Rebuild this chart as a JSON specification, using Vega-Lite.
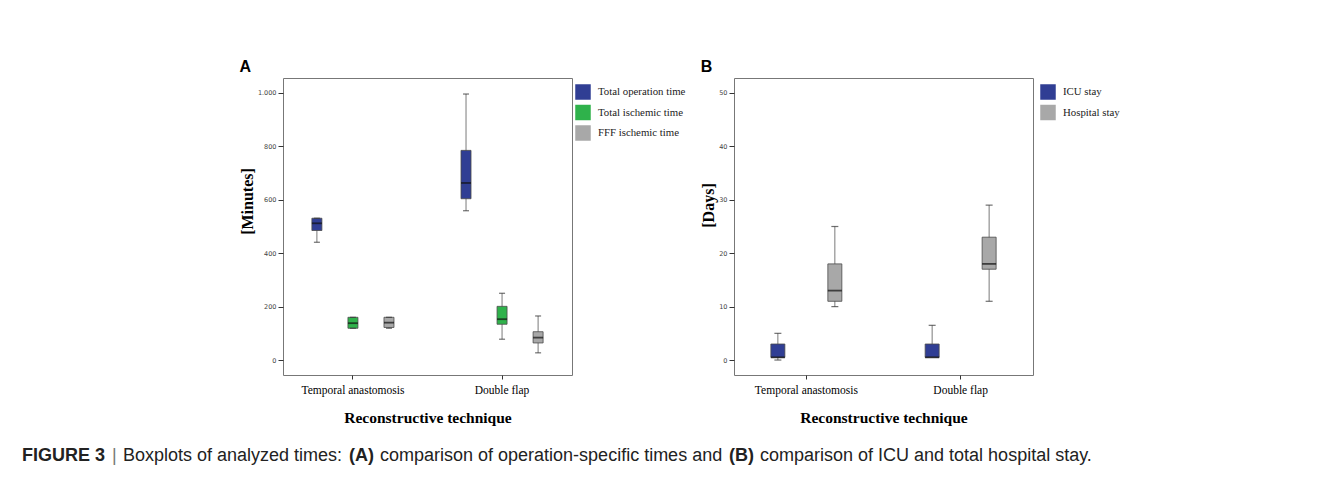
{
  "$schema": "https://vega.github.io/schema/vega-lite/v6.json",
  "background": "white",
  "padding": {"left": 22, "top": 58, "right": 5, "bottom": 5},
  "config": {
    "view": {"stroke": "#777", "strokeWidth": 1},
    "axis": {"grid": false, "domain": false, "tickColor": "#333", "tickWidth": 1, "titleColor": "#000"},
    "axisX": {"labelFont": "Liberation Serif", "labelFontSize": 11.5, "labelColor": "#000", "labelAngle": 0, "tickSize": 4, "labelPadding": 5, "titleFont": "Liberation Serif", "titleFontSize": 15.5, "titleFontWeight": "bold", "titlePadding": 15},
    "axisY": {"labelFont": "DejaVu Sans", "labelFontSize": 6.5, "labelColor": "#444", "tickSize": 5, "labelPadding": 2, "titleFont": "Liberation Serif", "titleFontSize": 16, "titleFontWeight": "bold", "titlePadding": 2},
    "legend": {"symbolType": "square", "symbolSize": 240, "symbolStrokeWidth": 0, "symbolOpacity": 1, "labelFont": "Liberation Serif", "labelFontSize": 10.8, "labelColor": "#222", "labelOffset": 7, "rowPadding": 4.5, "padding": 0}
  },
  "spacing": 20,
  "vconcat": [
    {
      "spacing": 13,
      "resolve": {"scale": {"color": "independent", "xOffset": "independent"}, "legend": {"color": "independent"}},
      "hconcat": [
        {"width": 203, "height": 10, "view": {"stroke": null}, "data": {"values": []}, "mark": {"type": "point", "opacity": 0}},
        {
          "width": 289,
          "height": 297,
          "title": {"text": "A", "anchor": "start", "frame": "bounds", "font": "Liberation Sans", "fontSize": 16, "fontWeight": "bold", "color": "#000", "offset": 3},
          "data": {"values": [
            {"technique": "Temporal anastomosis", "series": "Total operation time", "lower": 441, "q1": 485, "median": 512, "q3": 531, "upper": 531},
            {"technique": "Temporal anastomosis", "series": "Total ischemic time", "lower": 119, "q1": 119, "median": 138, "q3": 160, "upper": 160},
            {"technique": "Temporal anastomosis", "series": "FFF ischemic time", "lower": 119, "q1": 122, "median": 140, "q3": 160, "upper": 160},
            {"technique": "Double flap", "series": "Total operation time", "lower": 559, "q1": 604, "median": 663, "q3": 785, "upper": 996},
            {"technique": "Double flap", "series": "Total ischemic time", "lower": 78, "q1": 134, "median": 153, "q3": 201, "upper": 250},
            {"technique": "Double flap", "series": "FFF ischemic time", "lower": 27, "q1": 64, "median": 84, "q3": 106, "upper": 165}
          ]},
          "encoding": {
            "x": {"field": "technique", "type": "nominal", "sort": ["Temporal anastomosis", "Double flap"], "title": "Reconstructive technique", "scale": {"paddingInner": 0.5, "paddingOuter": 0.219}},
            "xOffset": {"field": "series", "type": "nominal", "sort": ["Total operation time", "Total ischemic time", "FFF ischemic time"], "scale": {"paddingInner": 0.931, "paddingOuter": 0}}
          },
          "layer": [
            {"mark": {"type": "rule", "color": "#7a7a7a", "strokeWidth": 1},
             "encoding": {
               "y": {"field": "lower", "type": "quantitative", "title": "[Minutes]", "scale": {"domain": [-56, 1056], "nice": false, "zero": false},
                     "axis": {"values": [0, 200, 400, 600, 800, 1000], "labelExpr": "replace(format(datum.value, ','), ',', '.')", "titleY": 123}},
               "y2": {"field": "upper"}}},
            {"mark": {"type": "bar", "width": 10, "stroke": "#4a4a4a", "strokeWidth": 0.8},
             "encoding": {
               "y": {"field": "q1", "type": "quantitative", "title": "[Minutes]", "scale": {"domain": [-56, 1056], "nice": false, "zero": false},
                     "axis": {"values": [0, 200, 400, 600, 800, 1000], "labelExpr": "replace(format(datum.value, ','), ',', '.')", "titleY": 123}},
               "y2": {"field": "q3"},
               "color": {"field": "series", "type": "nominal", "scale": {"domain": ["Total operation time", "Total ischemic time", "FFF ischemic time"], "range": ["#303e94", "#2fb24b", "#a8a8a8"]},
                         "legend": {"orient": "none", "legendX": 292, "legendY": 6, "title": null}}}},
            {"mark": {"type": "tick", "color": "#111", "thickness": 1.8, "size": 10},
             "encoding": {"y": {"field": "median", "type": "quantitative", "title": "[Minutes]", "scale": {"domain": [-56, 1056], "nice": false, "zero": false},
                     "axis": {"values": [0, 200, 400, 600, 800, 1000], "labelExpr": "replace(format(datum.value, ','), ',', '.')", "titleY": 123}}}},
            {"mark": {"type": "tick", "color": "#333", "thickness": 1.2, "size": 6},
             "encoding": {"y": {"field": "lower", "type": "quantitative", "title": "[Minutes]", "scale": {"domain": [-56, 1056], "nice": false, "zero": false},
                     "axis": {"values": [0, 200, 400, 600, 800, 1000], "labelExpr": "replace(format(datum.value, ','), ',', '.')", "titleY": 123}}}},
            {"mark": {"type": "tick", "color": "#333", "thickness": 1.2, "size": 6},
             "encoding": {"y": {"field": "upper", "type": "quantitative", "title": "[Minutes]", "scale": {"domain": [-56, 1056], "nice": false, "zero": false},
                     "axis": {"values": [0, 200, 400, 600, 800, 1000], "labelExpr": "replace(format(datum.value, ','), ',', '.')", "titleY": 123}}}}
          ]
        },
        {
          "width": 299,
          "height": 297,
          "title": {"text": "B", "anchor": "start", "frame": "bounds", "font": "Liberation Sans", "fontSize": 16, "fontWeight": "bold", "color": "#000", "offset": 3},
          "data": {"values": [
            {"technique": "Temporal anastomosis", "series": "ICU stay", "lower": 0, "q1": 0.5, "median": 0.5, "q3": 3, "upper": 5},
            {"technique": "Temporal anastomosis", "series": "Hospital stay", "lower": 10, "q1": 11, "median": 13, "q3": 18, "upper": 25},
            {"technique": "Double flap", "series": "ICU stay", "lower": 0.5, "q1": 0.5, "median": 0.5, "q3": 3, "upper": 6.5},
            {"technique": "Double flap", "series": "Hospital stay", "lower": 11, "q1": 17, "median": 18, "q3": 23, "upper": 29}
          ]},
          "encoding": {
            "x": {"field": "technique", "type": "nominal", "sort": ["Temporal anastomosis", "Double flap"], "title": "Reconstructive technique", "scale": {"paddingInner": 0.5, "paddingOuter": 0.219}},
            "xOffset": {"field": "series", "type": "nominal", "sort": ["ICU stay", "Hospital stay"], "scale": {"paddingInner": 0.646, "paddingOuter": 0}}
          },
          "layer": [
            {"mark": {"type": "rule", "color": "#7a7a7a", "strokeWidth": 1},
             "encoding": {
               "y": {"field": "lower", "type": "quantitative", "title": "[Days]", "scale": {"domain": [-2.8, 52.8], "nice": false, "zero": false},
                     "axis": {"values": [0, 10, 20, 30, 40, 50], "titleY": 127}},
               "y2": {"field": "upper"}}},
            {"mark": {"type": "bar", "width": 14, "stroke": "#4a4a4a", "strokeWidth": 0.8},
             "encoding": {
               "y": {"field": "q1", "type": "quantitative", "title": "[Days]", "scale": {"domain": [-2.8, 52.8], "nice": false, "zero": false},
                     "axis": {"values": [0, 10, 20, 30, 40, 50], "titleY": 127}},
               "y2": {"field": "q3"},
               "color": {"field": "series", "type": "nominal", "scale": {"domain": ["ICU stay", "Hospital stay"], "range": ["#303e94", "#a8a8a8"]},
                         "legend": {"orient": "none", "legendX": 306, "legendY": 6, "title": null}}}},
            {"mark": {"type": "tick", "color": "#111", "thickness": 1.8, "size": 14},
             "encoding": {"y": {"field": "median", "type": "quantitative", "title": "[Days]", "scale": {"domain": [-2.8, 52.8], "nice": false, "zero": false},
                     "axis": {"values": [0, 10, 20, 30, 40, 50], "titleY": 127}}}},
            {"mark": {"type": "tick", "color": "#333", "thickness": 1.2, "size": 7},
             "encoding": {"y": {"field": "lower", "type": "quantitative", "title": "[Days]", "scale": {"domain": [-2.8, 52.8], "nice": false, "zero": false},
                     "axis": {"values": [0, 10, 20, 30, 40, 50], "titleY": 127}}}},
            {"mark": {"type": "tick", "color": "#333", "thickness": 1.2, "size": 7},
             "encoding": {"y": {"field": "upper", "type": "quantitative", "title": "[Days]", "scale": {"domain": [-2.8, 52.8], "nice": false, "zero": false},
                     "axis": {"values": [0, 10, 20, 30, 40, 50], "titleY": 127}}}}
          ]
        }
      ]
    },
    {
      "spacing": 6,
      "hconcat": [
        {"width": 1, "height": 1, "view": {"stroke": null}, "data": {"values": []}, "mark": {"type": "point", "opacity": 0},
         "title": {"text": "FIGURE 3", "anchor": "start", "font": "Liberation Sans", "fontSize": 18, "fontWeight": "bold", "color": "#222", "offset": 0}},
        {"width": 1, "height": 1, "view": {"stroke": null}, "data": {"values": []}, "mark": {"type": "point", "opacity": 0},
         "title": {"text": "|", "anchor": "start", "font": "Liberation Sans", "fontSize": 18, "fontWeight": "normal", "color": "#777", "offset": 0}},
        {"width": 1, "height": 1, "view": {"stroke": null}, "data": {"values": []}, "mark": {"type": "point", "opacity": 0},
         "title": {"text": "Boxplots of analyzed times:", "anchor": "start", "font": "Liberation Sans", "fontSize": 18, "fontWeight": "normal", "color": "#222", "offset": 0}},
        {"width": 1, "height": 1, "view": {"stroke": null}, "data": {"values": []}, "mark": {"type": "point", "opacity": 0},
         "title": {"text": "(A)", "anchor": "start", "font": "Liberation Sans", "fontSize": 18, "fontWeight": "bold", "color": "#222", "offset": 0}},
        {"width": 1, "height": 1, "view": {"stroke": null}, "data": {"values": []}, "mark": {"type": "point", "opacity": 0},
         "title": {"text": "comparison of operation-specific times and", "anchor": "start", "font": "Liberation Sans", "fontSize": 18, "fontWeight": "normal", "color": "#222", "offset": 0}},
        {"width": 1, "height": 1, "view": {"stroke": null}, "data": {"values": []}, "mark": {"type": "point", "opacity": 0},
         "title": {"text": "(B)", "anchor": "start", "font": "Liberation Sans", "fontSize": 18, "fontWeight": "bold", "color": "#222", "offset": 0}},
        {"width": 1, "height": 1, "view": {"stroke": null}, "data": {"values": []}, "mark": {"type": "point", "opacity": 0},
         "title": {"text": "comparison of ICU and total hospital stay.", "anchor": "start", "font": "Liberation Sans", "fontSize": 18, "fontWeight": "normal", "color": "#222", "offset": 0}}
      ]
    }
  ]
}
